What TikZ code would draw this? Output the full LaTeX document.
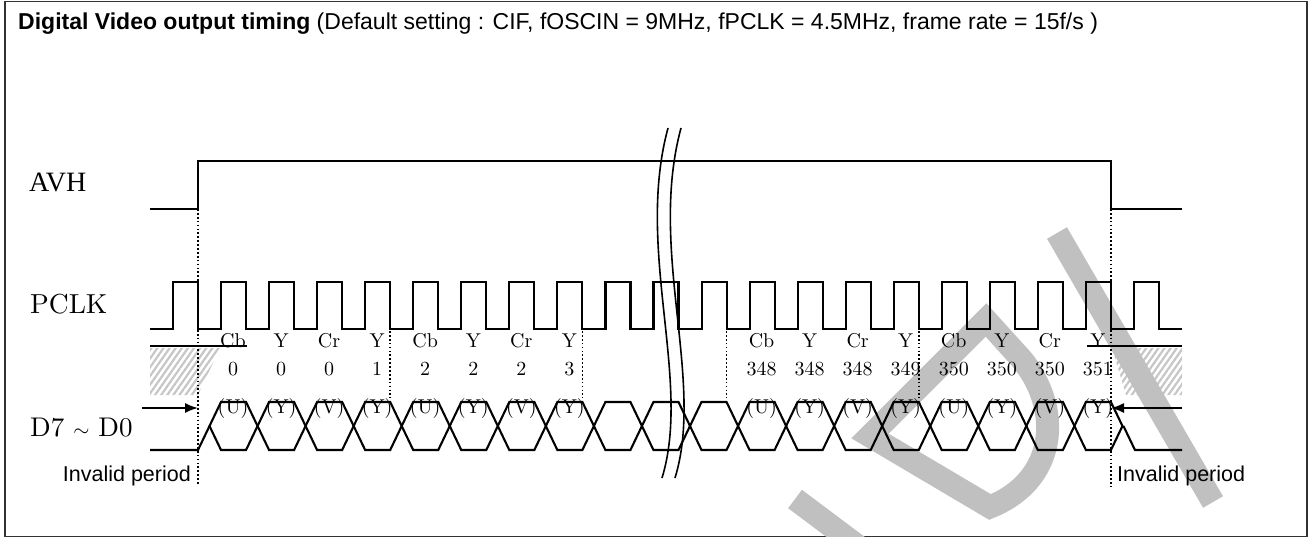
\documentclass[tikz,border=0pt]{standalone}
\usepackage{fontspec}
\newfontfamily\sansf{Liberation Sans}
\newfontfamily\seriff{Liberation Serif}
\newfontfamily\cmten{lmroman10-regular}[Extension=.otf]
\usetikzlibrary{arrows.meta,patterns.meta}
\definecolor{wmgray}{RGB}{192,192,192}
\definecolor{hatchgray}{RGB}{198,198,198}
\definecolor{framegray}{RGB}{50,50,50}
\begin{document}
\begin{tikzpicture}[x=1pt,y=-1pt,
  wave/.style={line width=2.1pt, line join=miter},
  dotline/.style={line width=1.7pt, dash pattern=on 1.7pt off 2.2pt},
  sig/.style={font=\cmten\fontsize{27.5}{32}\selectfont, anchor=base west, inner sep=0pt},
  lbl/.style={font=\cmten\fontsize{20}{22}\selectfont, anchor=base, inner sep=0pt},
  inv/.style={font=\sansf\fontsize{21.5}{24}\selectfont, inner sep=0pt},
  wm/.style={line width=23pt, draw=wmgray, line cap=butt, line join=miter},
  hatch/.style={pattern={Lines[angle=55,distance=5pt,line width=2.2pt]}, pattern color=hatchgray},
  arr/.style={line width=1.6pt, -{Latex[length=13pt,width=10pt]}},
  brk/.style={line width=1.6pt}
]
\useasboundingbox (0,0) rectangle (1310,538);
% frame
\draw[framegray, line width=1.3pt] (5,1.5) rectangle (1307,536.5);
% title
\node[anchor=base west, inner sep=0pt, font=\sansf\fontsize{23}{26}\selectfont] (title) at (18,30)
  {\textbf{Digital Video output timing} (Default setting : CIF, fOSCIN = 9MHz, fPCLK = 4.5MHz, frame rate = 15f/s )};
% hatched invalid regions
\fill[hatch] (150,348) -- (220,348) -- (198,395) -- (150,395) -- cycle;
\fill[hatch] (1112,348) -- (1182,348) -- (1182,395) -- (1126,395) -- cycle;
% watermark fragments
\begin{scope}
  \clip (5,1.5) rectangle (1307,536.5);
  \draw[wm] (1057,233) -- (1213,502);
  \draw[wm] (870,436) -- (986,320) -- (1015,352) .. controls (1062,400) and (1062,478) .. (990,507) -- cycle;
  \draw[wm] (795,499) -- (875,559);
\end{scope}
% signal names
\node[sig, font=\seriff\fontsize{28}{32}\selectfont] (avhlbl) at (29,191) {AVH};
\node[sig] (pclklbl) at (30,313) {PCLK};
\node[sig, font=\cmten\fontsize{27}{32}\selectfont] (dlbl) at (30,436) {D7 {\fontsize{20}{20}\selectfont$\sim$} D0};
% AVH
\draw[wave] (150,209) -- (198,209) -- (198,161) -- (1111,161) -- (1111,209) -- (1182,209);
% PCLK
\draw[wave] (150,329)
  \foreach \k in {0,...,20}{ -- ({173+48.05*\k},329) -- ({173+48.05*\k},282) -- ({198+48.05*\k},282) -- ({198+48.05*\k},329) }
  -- (1182,329);
% D7~D0 bus
\draw[wave] (150,450) -- (198,450) -- (209.5,426);
\foreach \c in {0,...,18}{
  \pgfmathsetmacro\a{198+48.05*\c}
  \pgfmathsetmacro\b{198+48.05*(\c+1)}
  \draw[wave] ({\a+11.5},426) -- ({\a+23},402) -- (\b,402) -- ({\b+11.5},426) -- (\b,450) -- ({\a+23},450) -- cycle;
}
\draw[wave] (1123.45,426) -- (1134.95,450) -- (1182,450);
% lines over hatch
\draw[wave] (150,346) -- (247,346);
\draw[wave] (1087,346) -- (1182,346);
% dotted guides
\coordinate (g0a) at (198,209); \coordinate (g0b) at (198,485);
\coordinate (g1a) at (1111,209); \coordinate (g1b) at (1111,487);
\draw[dotline] (g0a) -- (g0b);
\draw[dotline] (g1a) -- (g1b);
\foreach \k in {4,8,11,15}{
  \pgfmathsetmacro\x{198+48.05*\k}
  \draw[dotline] (\x,331) -- (\x,398);
}
% arrows
\coordinate (al) at (142,408); \coordinate (alt) at (198,408);
\coordinate (ar) at (1182,408); \coordinate (art) at (1111,408);
\draw[arr] (al) -- (alt);
\draw[arr] (ar) -- (art);
% data labels
\foreach \c/\t/\n/\p [count=\i] in {0/Cb/0/U, 1/Y/0/Y, 2/Cr/0/V, 3/Y/1/Y, 4/Cb/2/U, 5/Y/2/Y, 6/Cr/2/V, 7/Y/3/Y,
  11/Cb/348/U, 12/Y/348/Y, 13/Cr/348/V, 14/Y/349/Y, 15/Cb/350/U, 16/Y/350/Y, 17/Cr/350/V, 18/Y/351/Y}{
  \pgfmathsetmacro\x{233+48.05*\c}
  \node[lbl] (t\i) at (\x,347) {\t};
  \node[lbl] (n\i) at (\x,375) {\n};
  \node[lbl] (p\i) at (\x,413) {(\p)};
}
% break marks
\draw[brk] (668,128) .. controls (635,250) and (692,380) .. (662,478);
\draw[brk] (681,128) .. controls (648,250) and (705,380) .. (675,478);
% invalid period labels
\node[inv, anchor=base east] (inv1) at (191,481) {Invalid period};
\node[inv, anchor=base west] (inv2) at (1117,481) {Invalid period};
\end{tikzpicture}
\end{document}
